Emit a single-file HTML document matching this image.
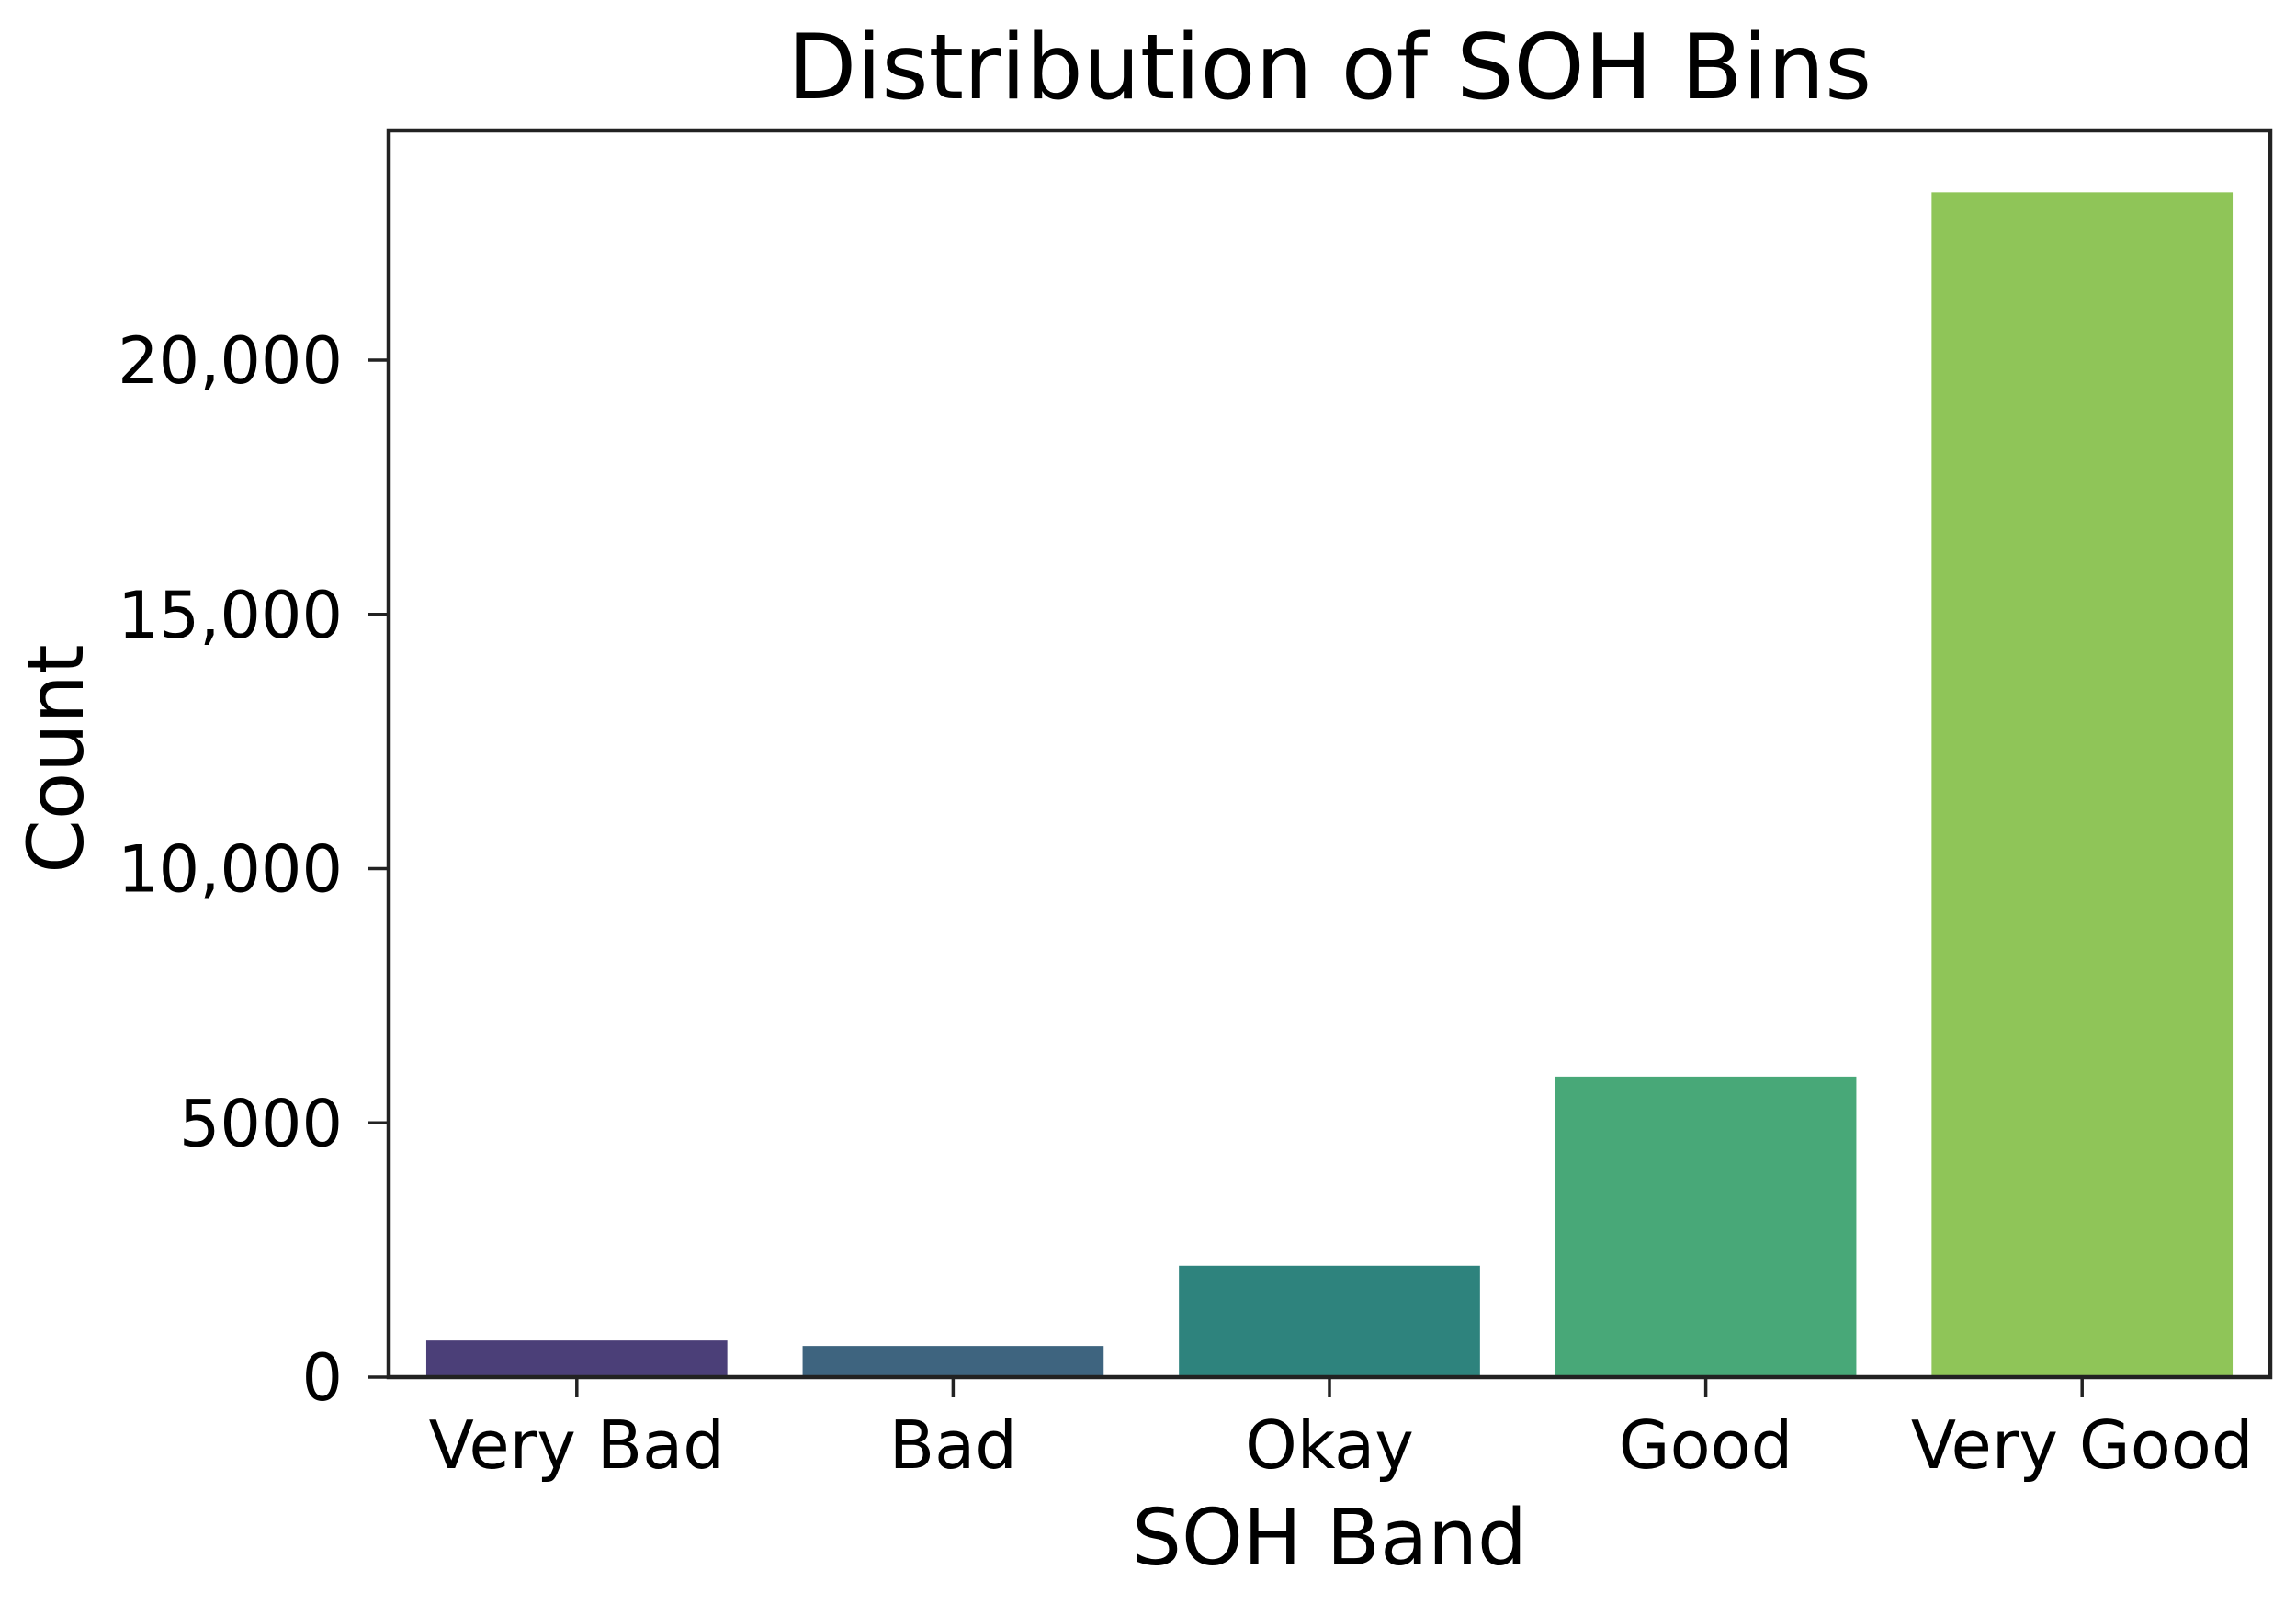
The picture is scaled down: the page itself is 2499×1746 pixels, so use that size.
<!DOCTYPE html>
<html><head><meta charset="utf-8"><style>
html,body{margin:0;padding:0;background:#fff;}
svg{display:block;font-family:"DejaVu Sans","Liberation Sans",sans-serif;}
</style></head><body>
<svg id="chart" width="2499" height="1746" viewBox="0 0 2499 1746" xmlns="http://www.w3.org/2000/svg">
<rect width="2499" height="1746" fill="#fff"/>
<text x="1447" y="107" font-size="98" text-anchor="middle" fill="#000">Distribution of SOH Bins</text>
<g id="bars"></g>
<g id="yticks"></g>
<g id="xticks"></g>
<rect x="423" y="142" width="2048" height="1357" fill="none" stroke="#222" stroke-width="4.5"/>
<text transform="translate(90,826) rotate(-90)" font-size="84" text-anchor="middle" fill="#000">Count</text>
<text x="1447" y="1703" font-size="85" text-anchor="middle" fill="#000">SOH Band</text>
</svg>
<script>
const categories = ["Very Bad","Bad","Okay","Good","Very Good"];
const counts = [720, 612, 2190, 5910, 23300];
const barColors = ["#4b3f78","#3e647f","#2e837d","#48a878","#8fc558"];
const yTicks = [0, 5000, 10000, 15000, 20000];
const yTickLabels = ["0","5000","10,000","15,000","20,000"];

const NS = "http://www.w3.org/2000/svg";
const X0 = 423, W = 2048, Y0 = 1499, PX_PER_5000 = 276.75;
function yScale(v){ return Y0 - v / 5000 * PX_PER_5000; }
function xBand(i){ return X0 + W / categories.length * i; }
const band = W / categories.length;
const barsG = document.getElementById('bars');
const xt = document.getElementById('xticks');
const yt = document.getElementById('yticks');
categories.forEach((c, i) => {
  const r = document.createElementNS(NS, 'rect');
  
  
  const x = xBand(i) + band * 0.1;
  r.setAttribute('x', x);
  r.setAttribute('width', band * 0.8);
  r.setAttribute('y', yScale(counts[i]));
  r.setAttribute('height', Y0 - yScale(counts[i]));
  r.setAttribute('fill', barColors[i]);
  barsG.appendChild(r);
  const cx = xBand(i) + band / 2;
  const tk = document.createElementNS(NS, 'line');
  
  
  tk.setAttribute('x1', cx); tk.setAttribute('x2', cx);
  tk.setAttribute('y1', Y0); tk.setAttribute('y2', Y0 + 22);
  tk.setAttribute('stroke', '#222'); tk.setAttribute('stroke-width', '3.5');
  xt.appendChild(tk);
  const t = document.createElementNS(NS, 'text');
  
  
  t.setAttribute('x', cx); t.setAttribute('y', 1598);
  t.setAttribute('font-size', '72'); t.setAttribute('text-anchor', 'middle');
  t.textContent = c;
  xt.appendChild(t);
});
yTicks.forEach((v, i) => {
  const y = yScale(v);
  const tk = document.createElementNS(NS, 'line');
  
  
  tk.setAttribute('x1', X0 - 22); tk.setAttribute('x2', X0);
  tk.setAttribute('y1', y); tk.setAttribute('y2', y);
  tk.setAttribute('stroke', '#222'); tk.setAttribute('stroke-width', '3.5');
  yt.appendChild(tk);
  const t = document.createElementNS(NS, 'text');
  
  
  t.setAttribute('x', 373); t.setAttribute('y', y + 25);
  t.setAttribute('font-size', '70'); t.setAttribute('text-anchor', 'end');
  t.textContent = yTickLabels[i];
  yt.appendChild(t);
});
</script>
</body></html>
